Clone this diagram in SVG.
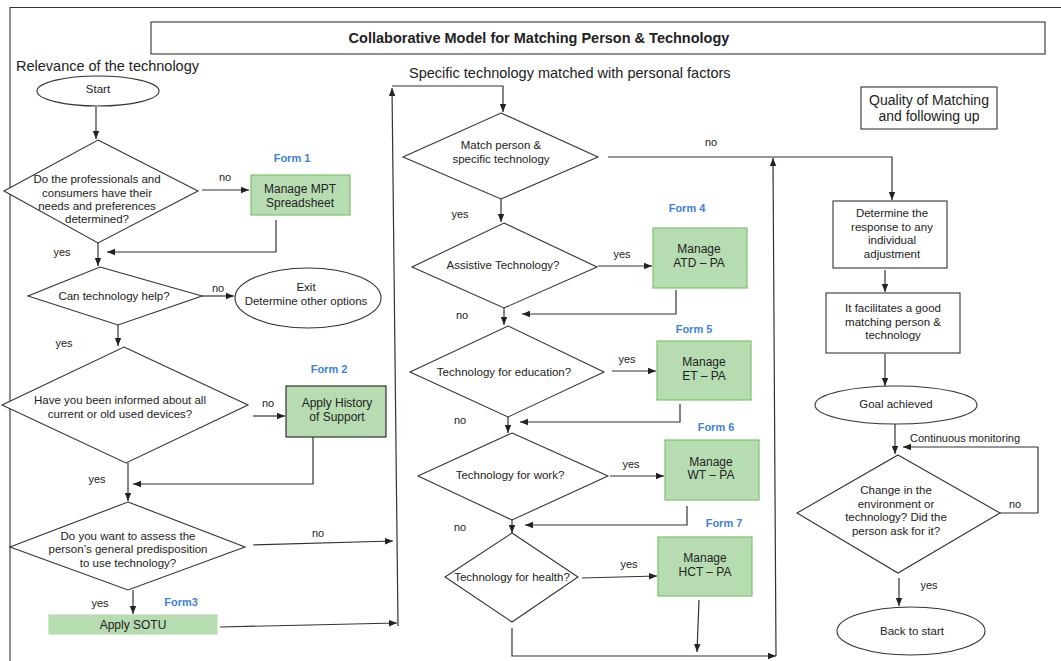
<svg xmlns="http://www.w3.org/2000/svg" width="1061" height="661" viewBox="0 0 1061 661">
<defs>
<marker id="ah" viewBox="0 0 10 10" refX="10" refY="5" markerWidth="8" markerHeight="8" orient="auto" markerUnits="userSpaceOnUse"><path d="M0,1 L10,5 L0,9 z" fill="#222"/></marker>
<style>
text{font-family:"Liberation Sans",Arial,sans-serif;fill:#222;text-anchor:middle}
.s{fill:none;stroke:#333;stroke-width:1.1}
.n{fill:#fff;stroke:#333;stroke-width:1.1}
.g{fill:#b7dcb2;stroke:#7cc46e;stroke-width:1.2}
.g2{fill:#b7dcb2;stroke:#333;stroke-width:1.2}
.c{fill:none;stroke:#333;stroke-width:1.2;marker-end:url(#ah)}
.t{font-size:11.5px}
.tb{font-size:12px}
.lb{font-size:11px}
.f{font-size:11px;font-weight:bold;fill:#3f82d2}
.h{font-size:14.5px;text-anchor:start}
</style>
</defs>
<rect width="1061" height="661" fill="#fff"/>
<path class="s" d="M10,661 V7.5 H1061"/>
<g id="title"><rect class="n" x="151" y="22" width="894" height="32"/><text x="539" y="43" style="font-size:14.5px;font-weight:bold">Collaborative Model for Matching Person &amp; Technology</text></g>
<text class="h" x="16" y="71">Relevance of the technology</text>
<text class="h" x="409" y="78">Specific technology matched with personal factors</text>

<g id="connectors">
<path class="c" d="M96,107 V139"/>
<path class="c" d="M202,190 H249"/>
<path class="c" d="M276,220 V252 H107"/>
<path class="c" d="M98,243 V266"/>
<path class="c" d="M202,296 H234"/>
<path class="c" d="M118,325 V346"/>
<path class="c" d="M253,416 H285"/>
<path class="c" d="M313,437 V484 H133"/>
<path class="c" d="M128,463 V501"/>
<path class="c" d="M253,545 L393,541"/>
<path class="c" d="M133,590 V614"/>
<path class="c" d="M220,627 L397,623"/>
<path class="c" d="M398,626 L392,88"/>
<path class="c" d="M392,86 H503 V112"/>
<path class="c" d="M608,157 H892 V200"/>
<path class="c" d="M501,199 V222"/>
<path class="c" d="M598,266 H652"/>
<path class="c" d="M676,290 V314 H522"/>
<path class="c" d="M504,308 V325"/>
<path class="c" d="M612,371 H656"/>
<path class="c" d="M680,404 V422 H520"/>
<path class="c" d="M508,417 V433"/>
<path class="c" d="M610,476 H664"/>
<path class="c" d="M687,506 V525 H525"/>
<path class="c" d="M512,520 V533"/>
<path class="c" d="M582,578 L657,576"/>
<path class="c" d="M699,600 L697,652"/>
<path class="c" d="M512,628 V656 H776"/>
<path class="c" d="M776,656 L773,158"/>
<path class="c" d="M885,270 V292"/>
<path class="c" d="M885,354 V386"/>
<path class="c" d="M895,424 V454"/>
<path class="c" d="M1000,513 H1038 V447 H903"/>
<path class="c" d="M899,578 V606"/>
<text class="lb" x="225" y="181">no</text>
<text class="lb" x="62" y="256">yes</text>
<text class="lb" x="218" y="292">no</text>
<text class="lb" x="64" y="347">yes</text>
<text class="lb" x="268" y="407">no</text>
<text class="lb" x="97" y="483">yes</text>
<text class="lb" x="318" y="537">no</text>
<text class="lb" x="100" y="607">yes</text>
<text class="lb" x="711" y="146">no</text>
<text class="lb" x="460" y="218">yes</text>
<text class="lb" x="622" y="258">yes</text>
<text class="lb" x="462" y="319">no</text>
<text class="lb" x="627" y="363">yes</text>
<text class="lb" x="460" y="424">no</text>
<text class="lb" x="631" y="468">yes</text>
<text class="lb" x="460" y="531">no</text>
<text class="lb" x="629" y="568">yes</text>
<text class="lb" x="1015" y="508">no</text>
<text class="lb" x="929" y="589">yes</text>
<text class="lb" x="910" y="442" style="text-anchor:start">Continuous monitoring</text>
</g>

<g id="start"><ellipse class="n" cx="98" cy="91" rx="61" ry="15"/><text class="t" x="98" y="93">Start</text></g>

<g id="d1"><polygon class="n" points="98,140 198,191 98,243 4,191"/>
<text class="t" x="97" y="183">Do the professionals and</text>
<text class="t" x="97" y="197">consumers have their</text>
<text class="t" x="97" y="210">needs and preferences</text>
<text class="t" x="97" y="223">determined?</text></g>

<g id="form1"><text class="f" x="292" y="162">Form 1</text>
<rect class="g" x="251" y="175" width="99" height="40"/>
<text class="tb" x="300" y="193">Manage MPT</text><text class="tb" x="300" y="207">Spreadsheet</text></g>

<g id="d2"><polygon class="n" points="100,267 202,296 118,325 28,296"/>
<text class="t" x="114" y="300">Can technology help?</text></g>

<g id="exit"><ellipse class="n" cx="308" cy="298" rx="73" ry="30"/>
<text class="t" x="306" y="291">Exit</text><text class="t" x="306" y="305">Determine other options</text></g>

<g id="d3"><polygon class="n" points="124,347 248,405 126,463 2,405"/>
<text class="t" x="120" y="404">Have you been informed about all</text>
<text class="t" x="120" y="418">current or old used devices?</text></g>

<g id="form2"><text class="f" x="329" y="373">Form 2</text>
<rect class="g2" x="286" y="386" width="100" height="51"/>
<text class="tb" x="337" y="407">Apply History</text><text class="tb" x="337" y="421">of Support</text></g>

<g id="d4"><polygon class="n" points="128,502 245,547 128,590 10,547"/>
<text class="t" x="128" y="540">Do you want to assess the</text>
<text class="t" x="128" y="553">person’s general predisposition</text>
<text class="t" x="128" y="567">to use technology?</text></g>

<g id="form3"><text class="f" x="181" y="606">Form3</text>
<rect class="g" x="49" y="615" width="168" height="19" style="stroke:#b7dcb2"/>
<text class="tb" x="133" y="629">Apply SOTU</text></g>

<g id="dm"><polygon class="n" points="501,113 598,157 501,199 403,157"/>
<text class="t" x="501" y="149">Match person &amp;</text>
<text class="t" x="501" y="163">specific technology</text></g>

<g id="dat"><polygon class="n" points="504,223 597,267 504,308 412,267"/>
<text class="t" x="503" y="269">Assistive Technology?</text></g>

<g id="form4"><text class="f" x="687" y="212">Form 4</text>
<rect class="g" x="653" y="228" width="94" height="60"/>
<text class="tb" x="699" y="253">Manage</text><text class="tb" x="699" y="267">ATD – PA</text></g>

<g id="de"><polygon class="n" points="508,326 604,372 508,417 410,372"/>
<text class="t" x="504" y="376">Technology for education?</text></g>

<g id="form5"><text class="f" x="694" y="333">Form 5</text>
<rect class="g" x="657" y="341" width="94" height="59"/>
<text class="tb" x="704" y="366">Manage</text><text class="tb" x="704" y="380">ET – PA</text></g>

<g id="dw"><polygon class="n" points="512,433 608,476 512,520 418,476"/>
<text class="t" x="510" y="479">Technology for work?</text></g>

<g id="form6"><text class="f" x="716" y="431">Form 6</text>
<rect class="g" x="665" y="440" width="94" height="60"/>
<text class="tb" x="711" y="466">Manage</text><text class="tb" x="711" y="479">WT – PA</text></g>

<g id="dh"><polygon class="n" points="512,533 578,577 512,622 445,577"/>
<text class="t" x="512" y="581">Technology for health?</text></g>

<g id="form7"><text class="f" x="724" y="527">Form 7</text>
<rect class="g" x="658" y="537" width="94" height="59"/>
<text class="tb" x="705" y="562">Manage</text><text class="tb" x="705" y="576">HCT – PA</text></g>

<g id="quality"><rect class="n" x="861" y="87" width="136" height="42"/>
<text x="929" y="105" style="font-size:14px">Quality of Matching</text>
<text x="929" y="121" style="font-size:14px">and following up</text></g>

<g id="determine"><rect class="n" x="833" y="201" width="114" height="67"/>
<text class="t" x="892" y="217">Determine the</text>
<text class="t" x="892" y="231">response to any</text>
<text class="t" x="892" y="244">individual</text>
<text class="t" x="892" y="258">adjustment</text></g>

<g id="facilitates"><rect class="n" x="826" y="293" width="134" height="60"/>
<text class="t" x="893" y="312">It facilitates a good</text>
<text class="t" x="893" y="326">matching person &amp;</text>
<text class="t" x="893" y="339">technology</text></g>

<g id="goal"><ellipse class="n" cx="896" cy="405" rx="81" ry="19"/>
<text class="t" x="896" y="408">Goal achieved</text></g>

<g id="dc"><polygon class="n" points="898,455 1000,513 898,573 797,513"/>
<text class="t" x="896" y="494">Change in the</text>
<text class="t" x="896" y="508">environment or</text>
<text class="t" x="896" y="521">technology? Did the</text>
<text class="t" x="896" y="535">person ask for it?</text></g>

<g id="back"><ellipse class="n" cx="911" cy="631" rx="74" ry="24"/>
<text class="t" x="912" y="635">Back to start</text></g>
</svg>
